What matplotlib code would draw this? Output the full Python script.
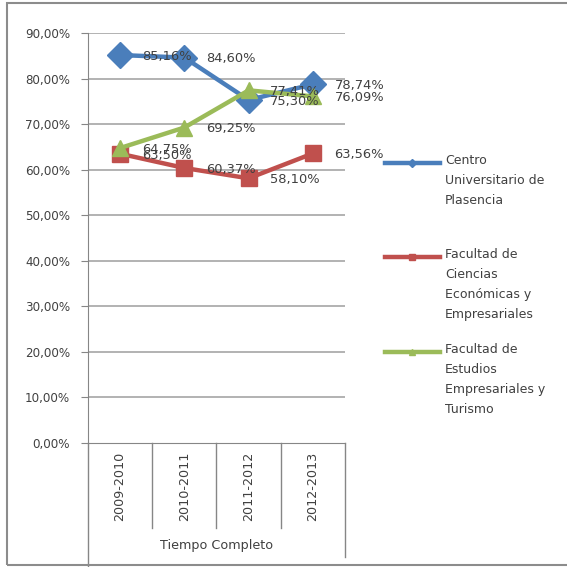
import matplotlib
matplotlib.use("Agg")
import matplotlib.pyplot as plt
from matplotlib.lines import Line2D
from matplotlib.patches import Rectangle
import matplotlib.transforms as mtransforms

categories = ["2009-2010", "2010-2011", "2011-2012", "2012-2013"]
group_label = "Tiempo Completo"
series_names = ["Centro\nUniversitario de\nPlasencia",
                "Facultad de\nCiencias\nEconómicas y\nEmpresariales",
                "Facultad de\nEstudios\nEmpresariales y\nTurismo"]
centro = [85.16, 84.60, 75.30, 78.74]
economicas = [63.50, 60.37, 58.10, 63.56]
turismo = [64.75, 69.25, 77.41, 76.09]
yticks = [0, 10, 20, 30, 40, 50, 60, 70, 80, 90]

colors = ["#4A7EBB", "#C0504D", "#9BBB59"]
markers = ["D", "s", "^"]
msizes = [13, 11.5, 12]

plt.rcParams['font.family'] = ['DejaVu Sans']
W = H = 567
fig = plt.figure(figsize=(5.67, 5.67), dpi=100)
fig.patch.set_facecolor("white")

# frame
fig.add_artist(Rectangle((7 / W, 1 - 565 / H), (570 - 7) / W, (565 - 3) / H,
                         transform=fig.transFigure, fill=False,
                         edgecolor="#8C8C8C", linewidth=1.5))

left, right, top, bottom = 88, 345, 33, 443
ax = fig.add_axes([left / W, 1 - bottom / H, (right - left) / W, (bottom - top) / H])
ax.set_xlim(-0.5, len(categories) - 0.5)
ax.set_ylim(0, 90)
ax.set_yticks(yticks)
ax.set_yticklabels([f"{v:.2f}%".replace(".", ",") for v in yticks],
                   fontsize=8.6, color="#404040")
ax.tick_params(axis='y', length=5, color="#868686", pad=8)
ax.set_xticks([])
for y in yticks[1:]:
    ax.axhline(y, color="#A6A6A6", linewidth=1.2, zorder=0)
for s in ["top", "right"]:
    ax.spines[s].set_visible(False)
ax.spines["left"].set_color("#868686")
ax.spines["bottom"].set_color("#868686")

all_series = [centro, economicas, turismo]
xs = list(range(len(categories)))
for vals, c, m, ms in zip(all_series, colors, markers, msizes):
    ax.plot(xs, vals, color=c, linewidth=3.2, marker=m, markersize=ms,
            markerfacecolor=c, markeredgecolor=c, zorder=3)
    for x, v in zip(xs, vals):
        ax.annotate(f"{v:.2f}%".replace(".", ","), (x, v), xytext=(15.5, -1),
                    textcoords="offset points", ha="left", va="center",
                    fontsize=9.4, color="#404040", zorder=4)

# category dividers and labels below the axis
trans = mtransforms.blended_transform_factory(ax.transData, ax.transAxes)
axh = bottom - top
for i in range(len(categories) + 1):
    xb = i - 0.5
    if i == 0:
        yend = -(566 - bottom) / axh
    elif i == len(categories):
        yend = -(557 - bottom) / axh
    else:
        yend = -(528 - bottom) / axh
    ax.plot([xb, xb], [0, yend], transform=trans, color="#868686",
            linewidth=1, clip_on=False)
for x, cat in zip(xs, categories):
    ax.text(x, -(452 - bottom) / axh, cat, transform=trans, rotation=90,
            ha="center", va="top", fontsize=9.2, color="#404040")
ax.text(1.5, -(545 - bottom) / axh, group_label, transform=trans,
        ha="center", va="center", fontsize=9.2, color="#404040")

# legend
legend_y = [163, 257, 352]
for name, c, m, ly in zip(series_names, colors, markers, legend_y):
    fig.add_artist(Line2D([385 / W, 440 / W], [1 - ly / H, 1 - ly / H],
                          transform=fig.transFigure, color=c, linewidth=3.2))
    fig.add_artist(Line2D([412 / W], [1 - ly / H], transform=fig.transFigure,
                          color=c, marker=m, markersize=4, linestyle="none"))
    fig.text(445 / W, 1 - (ly - 9) / H, name, ha="left", va="top",
             fontsize=9, color="#404040", linespacing=1.7)

fig.savefig("out.png", dpi=100, facecolor="white")
